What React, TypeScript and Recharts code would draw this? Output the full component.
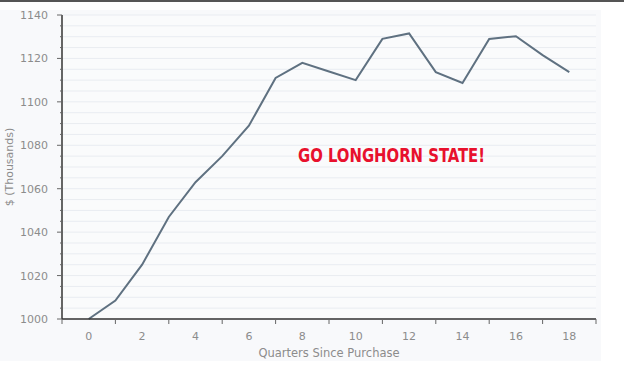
import { CartesianGrid, Line, LineChart, XAxis, YAxis } from "recharts";

const quarters = [0, 1, 2, 3, 4, 5, 6, 7, 8, 9, 10, 11, 12, 13, 14, 15, 16, 17, 18];
const values = [
  1000, 1008.5, 1025, 1047, 1063, 1075, 1089, 1111, 1118, 1114, 1110, 1129,
  1131.5, 1113.7, 1108.7, 1129, 1130.2, 1121.5, 1113.7,
];
const xTicks = [-1, 0, 1, 2, 3, 4, 5, 6, 7, 8, 9, 10, 11, 12, 13, 14, 15, 16, 17, 18, 19];
const yTicks = [
  1000, 1005, 1010, 1015, 1020, 1025, 1030, 1035, 1040, 1045, 1050, 1055, 1060,
  1065, 1070, 1075, 1080, 1085, 1090, 1095, 1100, 1105, 1110, 1115, 1120, 1125,
  1130, 1135, 1140,
];

const data = quarters.map((q, i) => ({ q, v: values[i] }));

const FONT = "DejaVu Sans, Verdana, sans-serif";
const GRAY = "#8c8c8c";
const FRAME = "#333";
// plot edges
const AXIS_X = 62;
const AXIS_Y = 319;

function XTick({ x, payload }: any) {
  const v = payload.value;
  if (v % 2 === 0) {
    return (
      <text x={x} y={AXIS_Y + 21} textAnchor="middle" fontSize={11} fill={GRAY} fontFamily={FONT}>
        {v}
      </text>
    );
  }
  return <line x1={x} x2={x} y1={AXIS_Y} y2={AXIS_Y + 5} stroke="#666" strokeWidth={1} />;
}

function YTick({ y, payload }: any) {
  const v = payload.value;
  const major = v % 20 === 0;
  return (
    <g>
      <line x1={AXIS_X - (major ? 5 : 2)} x2={AXIS_X} y1={y} y2={y} stroke="#666" strokeWidth={1} />
      {major && (
        <text x={48} y={y + 4} textAnchor="end" fontSize={11} fill={GRAY} fontFamily={FONT}>
          {v}
        </text>
      )}
    </g>
  );
}

export default function App() {
  return (
    <div style={{ position: "absolute", left: 0, top: 0, width: 624, height: 379, background: "#fff" }}>
      <div style={{ position: "absolute", left: 0, top: 0, width: 624, height: 2, background: "#555" }} />
      <div style={{ position: "absolute", left: 0, top: 10, width: 601, height: 351, background: "#f8f9fb" }} />
      <div style={{ position: "absolute", left: 0, top: 0 }}>
        <LineChart width={624} height={379} data={data} margin={{ top: 15, right: 28, bottom: 30, left: 12 }}>
          <CartesianGrid
            vertical={false}
            stroke="#e9ecf1"
            fill="#fafbfc"
            horizontalValues={yTicks}
          />
          <XAxis
            dataKey="q"
            type="number"
            domain={[-1, 19]}
            ticks={xTicks}
            interval={0}
            tick={<XTick />}
            tickLine={false}
            axisLine={{ stroke: FRAME, strokeWidth: 1.5 }}
            height={30}
            label={{
              value: "Quarters Since Purchase",
              position: "insideBottom",
              offset: -8,
              fontSize: 11.5,
              fill: GRAY,
              fontFamily: FONT,
            }}
          />
          <XAxis
            xAxisId="top"
            orientation="top"
            dataKey="q"
            type="number"
            domain={[-1, 19]}
            tick={false}
            tickLine={false}
            height={0}
            axisLine={{ stroke: FRAME, strokeWidth: 1.5 }}
          />
          <YAxis
            type="number"
            domain={[1000, 1140]}
            ticks={yTicks}
            interval={0}
            tick={<YTick />}
            tickLine={false}
            width={50}
            axisLine={{ stroke: FRAME, strokeWidth: 1.5 }}
            label={{
              value: "$ (Thousands)",
              angle: -90,
              position: "insideLeft",
              offset: -3,
              style: { textAnchor: "middle" },
              fontSize: 11,
              fill: GRAY,
              fontFamily: FONT,
            }}
          />
          <YAxis
            yAxisId="right"
            orientation="right"
            domain={[1000, 1140]}
            tick={false}
            tickLine={false}
            width={0}
            axisLine={{ stroke: FRAME, strokeWidth: 1.5 }}
          />
          <Line
            type="linear"
            dataKey="v"
            stroke="#5f7181"
            strokeWidth={2}
            dot={false}
            isAnimationActive={false}
          />
        </LineChart>
      </div>
      <svg style={{ position: "absolute", left: 0, top: 0 }} width={624} height={379}>
        <text
          x={298}
          y={162}
          fontSize={19}
          fontWeight="bold"
          fill="#e8112d"
          fontFamily="DejaVu Sans Condensed, DejaVu Sans, sans-serif"
          textLength={187}
          lengthAdjust="spacingAndGlyphs"
        >
          GO LONGHORN STATE!
        </text>
      </svg>
    </div>
  );
}
